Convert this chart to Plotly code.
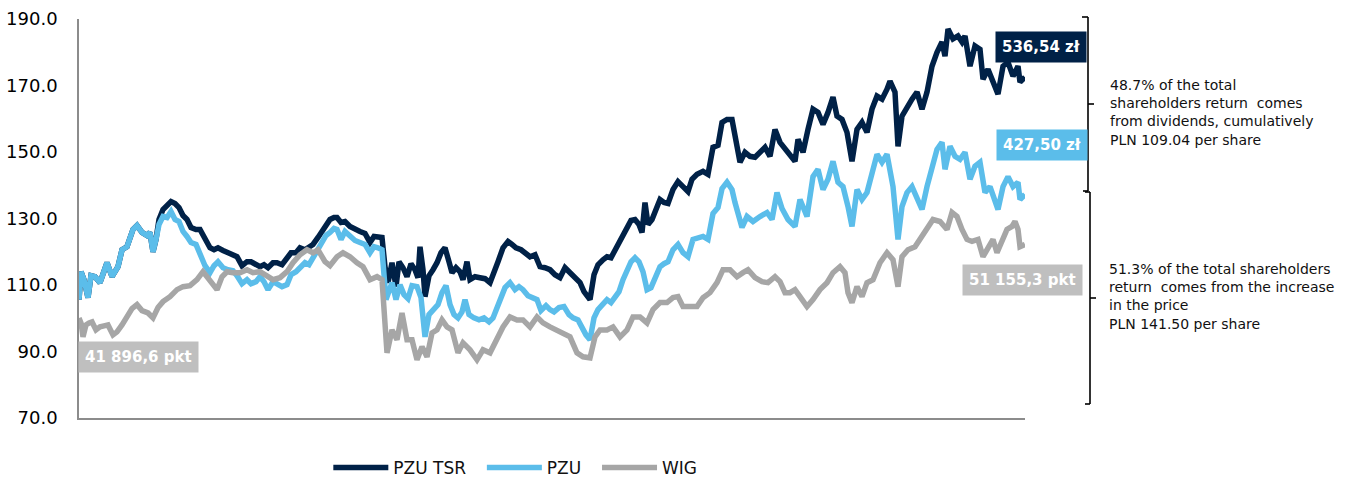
import plotly.graph_objects as go

# ---------------- data ----------------
# x = trading-session index since start, y = index value (start = 100)
SERIES_NAMES = ["PZU TSR", "PZU", "WIG"]
END_LABELS = ["536,54 zł", "427,50 zł", "51 155,3 pkt"]
START_LABEL = "41 896,6 pkt"

PZU_POINTS = [
    (0, 105.6), (4, 114.0), (10, 111.6), (18, 106.2), (24, 112.8), (32, 112.5), (42, 110.7), (50, 114.0),
    (56, 116.7), (66, 112.5), (78, 115.5), (86, 120.6), (96, 121.5), (108, 126.7), (116, 127.9), (126, 125.8),
    (136, 124.9), (142, 125.8), (148, 120.0), (154, 123.7), (160, 128.2), (168, 130.6), (176, 130.3), (184, 132.1),
    (192, 129.7), (200, 129.1), (208, 126.1), (216, 124.6), (224, 122.8), (234, 122.2), (242, 119.7), (252, 115.8),
    (262, 113.7), (270, 115.8), (278, 117.0), (288, 115.2), (298, 114.6), (308, 114.3), (316, 112.8), (326, 110.4),
    (336, 111.6), (344, 110.4), (354, 111.0), (362, 112.5), (370, 111.0), (378, 108.6), (388, 111.0), (396, 110.4),
    (406, 109.5), (416, 110.1), (424, 113.1), (434, 114.0), (442, 115.2), (452, 116.7), (460, 116.1), (468, 118.2),
    (478, 120.0), (486, 122.2), (494, 124.9), (502, 125.8), (510, 127.0), (516, 126.7), (524, 123.7), (532, 126.1),
    (542, 124.6), (552, 123.4), (562, 122.8), (572, 122.2), (582, 119.7), (590, 121.5), (598, 121.2), (606, 120.6),
    (614, 105.6), (620, 108.6), (626, 110.7), (634, 105.6), (642, 110.1), (650, 107.1), (658, 105.9), (666, 109.8),
    (676, 109.5), (684, 106.2), (692, 94.4), (700, 101.1), (708, 102.6), (718, 104.1), (726, 107.7), (734, 109.8),
    (742, 104.1), (750, 101.1), (758, 100.1), (766, 101.9), (772, 105.6), (780, 101.1), (790, 100.1), (800, 99.5),
    (810, 100.1), (820, 98.9), (828, 100.1), (836, 103.5), (844, 106.2), (852, 109.2), (862, 110.7), (872, 108.6),
    (880, 109.5), (888, 108.6), (898, 106.8), (908, 106.2), (916, 105.6), (924, 102.3), (934, 103.8), (942, 102.6),
    (950, 101.9), (960, 103.2), (970, 103.5), (980, 101.1), (988, 100.1), (998, 99.5), (1006, 97.1), (1014, 95.0),
    (1022, 93.5), (1030, 100.1), (1038, 102.6), (1048, 104.1), (1056, 105.6), (1064, 104.7), (1072, 106.2), (1080, 108.0),
    (1088, 111.6), (1096, 114.0), (1104, 117.0), (1112, 118.2), (1120, 117.0), (1128, 114.0), (1136, 108.6), (1144, 109.2),
    (1152, 112.2), (1162, 115.5), (1170, 116.4), (1178, 117.0), (1188, 120.6), (1198, 122.2), (1208, 119.7), (1218, 118.5),
    (1228, 123.7), (1238, 124.0), (1248, 124.6), (1258, 123.7), (1268, 131.5), (1278, 133.3), (1286, 139.0), (1296, 140.9),
    (1306, 138.7), (1312, 134.8), (1320, 130.3), (1326, 127.3), (1336, 130.6), (1348, 129.1), (1362, 130.6), (1376, 131.8),
    (1386, 129.7), (1396, 137.8), (1406, 133.0), (1418, 129.7), (1432, 127.6), (1442, 135.7), (1456, 130.6), (1468, 142.6),
    (1478, 144.8), (1488, 138.7), (1498, 141.8), (1508, 147.2), (1518, 140.9), (1528, 139.6), (1538, 133.6), (1546, 127.6),
    (1556, 138.7), (1566, 135.7), (1576, 137.8), (1586, 143.9), (1596, 149.3), (1606, 146.9), (1616, 149.3), (1628, 139.6),
    (1638, 123.7), (1646, 133.6), (1656, 137.8), (1666, 139.6), (1676, 135.7), (1686, 132.7), (1696, 139.6), (1706, 145.7),
    (1716, 150.8), (1726, 152.9), (1732, 144.8), (1742, 151.7), (1752, 148.7), (1762, 147.8), (1772, 149.9), (1782, 141.8),
    (1792, 145.7), (1802, 146.9), (1812, 137.8), (1822, 139.6), (1832, 135.7), (1838, 132.7), (1848, 139.6), (1858, 142.6),
    (1868, 139.6), (1878, 140.9), (1882, 135.7), (1892, 137.2),
]

TSR_POINTS = [
    (0, 105.6), (4, 114.0), (10, 111.6), (18, 106.2), (24, 112.8), (32, 112.5), (42, 110.7), (50, 114.0),
    (56, 116.7), (66, 112.5), (78, 115.5), (86, 120.6), (96, 121.5), (108, 126.7), (116, 127.9), (126, 125.8),
    (136, 124.9), (142, 125.8), (148, 120.0), (154, 123.7),
    (160, 129.7), (168, 132.7), (176, 134.2), (184, 135.1), (192, 134.5), (200, 133.3), (208, 130.9), (216, 129.7),
    (224, 127.3), (234, 126.7), (242, 126.7), (252, 123.7), (262, 121.2), (270, 120.6), (278, 121.2), (288, 120.4),
    (298, 119.7), (308, 119.1), (316, 118.5), (326, 115.8), (336, 117.0), (344, 117.0), (354, 116.4), (362, 115.5),
    (370, 116.1), (378, 115.2), (388, 116.7), (396, 116.7), (406, 116.1), (416, 118.5), (424, 119.7), (434, 119.7),
    (442, 121.2), (452, 120.6), (460, 121.5), (468, 122.2), (478, 124.3), (486, 126.1), (494, 128.5), (502, 129.7),
    (510, 130.3), (516, 130.3), (524, 128.8), (532, 129.1), (542, 127.6), (552, 126.7), (562, 126.1), (572, 125.5),
    (582, 122.8), (590, 124.6), (598, 124.6), (606, 124.3), (612, 115.5), (618, 110.7), (626, 116.7), (634, 109.5),
    (640, 117.0), (648, 115.2), (656, 112.5), (664, 116.4), (672, 114.6), (678, 112.2), (682, 121.5), (688, 114.6),
    (692, 106.5), (700, 112.8), (708, 114.6), (716, 116.7), (724, 119.7), (732, 121.2), (740, 117.0), (746, 113.7),
    (754, 115.2), (762, 114.0), (768, 111.6), (776, 117.0), (782, 111.6), (792, 112.5), (802, 112.2), (812, 111.9),
    (822, 110.7), (830, 113.4), (838, 117.0), (848, 121.2), (858, 123.1), (866, 122.2), (874, 121.2), (884, 120.6),
    (894, 119.4), (902, 118.5), (912, 119.1), (922, 115.5), (932, 115.2), (942, 114.6), (952, 113.1), (962, 112.2),
    (972, 115.2), (982, 113.7), (992, 112.2), (1002, 110.7), (1010, 108.0), (1018, 106.5), (1022, 105.6), (1030, 113.1),
    (1038, 116.1), (1048, 117.6), (1056, 118.5), (1064, 118.2), (1072, 120.6), (1080, 122.8), (1088, 125.2), (1096, 127.9),
    (1104, 129.4), (1112, 129.7), (1120, 128.2), (1126, 125.8), (1132, 134.8), (1138, 128.2), (1146, 129.7), (1154, 132.7),
    (1162, 135.7), (1170, 134.8), (1178, 134.5), (1188, 138.7), (1198, 141.1), (1208, 139.6), (1218, 138.1), (1226, 141.8),
    (1236, 143.3), (1248, 144.2), (1258, 143.3), (1268, 151.4), (1278, 152.0), (1286, 158.9), (1296, 159.8), (1306, 159.8),
    (1312, 154.7), (1322, 146.9), (1332, 149.9), (1342, 148.7), (1352, 148.4), (1362, 149.9), (1372, 151.4), (1382, 148.7),
    (1392, 156.8), (1402, 152.9), (1412, 150.8), (1422, 148.7), (1432, 147.2), (1438, 153.8), (1448, 149.9), (1458, 156.8),
    (1468, 162.9), (1478, 161.9), (1488, 158.3), (1498, 161.9), (1508, 166.5), (1516, 160.8), (1526, 159.8), (1536, 155.9),
    (1546, 147.2), (1556, 156.8), (1566, 158.9), (1576, 155.9), (1586, 162.9), (1596, 166.8), (1606, 165.9), (1616, 168.9),
    (1622, 171.3), (1632, 168.0), (1638, 151.7), (1646, 160.8), (1656, 163.8), (1666, 165.9), (1676, 168.0), (1686, 162.9),
    (1696, 168.0), (1706, 175.8), (1716, 180.0), (1726, 183.1), (1732, 178.8), (1738, 187.0), (1748, 184.0), (1758, 184.9),
    (1766, 183.1), (1772, 184.9), (1782, 175.8), (1792, 181.9), (1802, 180.9), (1808, 171.9), (1818, 174.9), (1828, 171.0),
    (1838, 167.4), (1848, 175.8), (1858, 177.0), (1868, 172.8), (1878, 175.8), (1882, 171.0), (1892, 172.5),
]

WIG_POINTS = [
    (0, 100.1), (4, 98.6), (8, 94.4), (14, 98.0), (20, 98.6), (26, 98.9), (34, 96.5), (42, 97.4),
    (50, 97.7), (58, 98.0), (68, 95.0), (76, 95.9), (86, 98.0), (96, 100.4), (106, 102.9), (116, 104.1),
    (126, 102.3), (138, 101.6), (148, 100.1), (158, 103.2), (168, 105.0), (182, 106.5), (196, 108.6), (208, 109.5),
    (222, 109.8), (236, 111.6), (248, 114.0), (256, 112.5), (266, 110.7), (276, 108.6), (286, 112.5), (296, 114.0),
    (308, 113.7), (322, 113.7), (336, 114.6), (348, 113.7), (362, 114.0), (376, 112.5), (388, 111.6), (402, 112.2),
    (416, 114.0), (428, 116.7), (442, 119.1), (456, 120.6), (468, 119.7), (478, 120.6), (492, 117.0), (502, 115.8),
    (516, 118.5), (528, 119.7), (542, 118.5), (556, 116.7), (568, 115.5), (582, 111.6), (596, 112.5), (606, 111.6),
    (612, 99.5), (616, 89.6), (626, 96.5), (636, 93.5), (646, 101.6), (656, 93.5), (666, 93.5), (676, 87.5),
    (686, 91.4), (696, 88.4), (706, 95.6), (716, 96.5), (726, 99.5), (736, 97.4), (746, 96.5), (758, 89.6),
    (768, 92.6), (782, 90.5), (796, 87.5), (808, 90.5), (822, 89.6), (836, 93.5), (848, 97.4), (862, 100.4),
    (876, 99.5), (888, 99.5), (902, 97.4), (916, 100.4), (928, 98.6), (942, 97.4), (956, 96.5), (968, 95.6),
    (982, 94.4), (996, 89.6), (1008, 88.4), (1022, 88.1), (1032, 94.4), (1042, 96.5), (1056, 96.5), (1068, 97.4),
    (1082, 94.4), (1096, 96.5), (1108, 100.4), (1122, 100.4), (1136, 98.6), (1148, 102.6), (1162, 104.7), (1176, 104.7),
    (1188, 106.2), (1198, 106.5), (1208, 103.5), (1222, 103.5), (1236, 103.5), (1248, 106.2), (1262, 107.7), (1276, 110.7),
    (1288, 114.6), (1302, 114.6), (1316, 112.5), (1328, 113.7), (1338, 114.6), (1352, 112.2), (1366, 111.0), (1378, 110.7),
    (1392, 112.5), (1402, 111.0), (1412, 107.7), (1422, 107.7), (1432, 108.6), (1442, 106.5), (1456, 103.5), (1468, 105.6),
    (1482, 108.6), (1496, 110.7), (1508, 113.7), (1522, 115.5), (1532, 113.7), (1538, 107.7), (1546, 104.7), (1556, 109.5),
    (1566, 106.5), (1576, 110.7), (1588, 111.6), (1602, 116.7), (1616, 119.7), (1628, 117.6), (1638, 109.5), (1646, 118.5),
    (1658, 120.6), (1672, 121.5), (1682, 123.7), (1696, 126.7), (1708, 129.7), (1722, 129.1), (1736, 126.7), (1746, 131.8),
    (1756, 130.6), (1766, 126.7), (1776, 123.7), (1786, 123.1), (1798, 123.7), (1808, 118.5), (1818, 121.5), (1828, 123.7),
    (1836, 119.7), (1846, 122.8), (1856, 126.7), (1866, 127.6), (1872, 129.1), (1878, 126.7), (1882, 121.5), (1892, 122.2),
]

Y_TICKS = [70, 90, 110, 130, 150, 170, 190]

NOTE_DIVIDENDS = ("48.7% of the total<br>shareholders return\u00a0 comes<br>"
                  "from dividends, cumulatively<br>PLN 109.04 per share")
NOTE_PRICE = ("51.3% of the total shareholders<br>return\u00a0 comes from the increase<br>"
              "in the price<br>PLN 141.50 per share")

# ---------------- styles ----------------
COLORS = ["#002147", "#5BBDEA", "#A6A6A6"]
LABEL_BG = ["#002147", "#5BBDEA", "#BFBFBF"]
FONT = "DejaVu Sans"
LEGEND_PAD = "\u00a0\u00a0"   # extra spacing after each legend entry

W, H = 1351, 481
PL, PR, PT, PB = 79, 1025, 19, 418


def px(x):
    return (x - PL) / (PR - PL)


def py(y):
    return (PB - y) / (PB - PT)


fig = go.Figure()
for name, pts, col in zip(SERIES_NAMES, [TSR_POINTS, PZU_POINTS, WIG_POINTS], COLORS):
    xs = [p[0] for p in pts]
    ys = [p[1] for p in pts]
    fig.add_trace(go.Scatter(x=xs, y=ys, mode="lines", name=name + LEGEND_PAD,
                             line=dict(color=col, width=5.5, shape="linear"),
                             hoverinfo="skip"))

x_end = WIG_POINTS[-1][0]

annotations = []
# end value labels
label_centers = [(1040.5, 47), (1041.5, 144.5), (1022.5, 279.5)]
for txt, bg, (cx, cy) in zip(END_LABELS, LABEL_BG, label_centers):
    annotations.append(dict(xref="paper", yref="paper", x=px(cx), y=py(cy),
                            xanchor="center", yanchor="middle", showarrow=False,
                            text="<b>%s</b>" % txt, bgcolor=bg, borderpad=6,
                            font=dict(family=FONT, size=15, color="white")))
annotations.append(dict(xref="paper", yref="paper", x=px(138.5), y=py(357),
                        xanchor="center", yanchor="middle", showarrow=False,
                        text="<b>%s</b>" % START_LABEL, bgcolor=LABEL_BG[2], borderpad=6,
                        font=dict(family=FONT, size=15, color="white")))
# side notes
annotations.append(dict(xref="paper", yref="paper", x=px(1108), y=py(112),
                        xanchor="left", yanchor="middle", align="left", showarrow=False,
                        text=NOTE_DIVIDENDS, font=dict(family=FONT, size=14, color="#111111")))
annotations.append(dict(xref="paper", yref="paper", x=px(1107), y=py(296.5),
                        xanchor="left", yanchor="middle", align="left", showarrow=False,
                        text=NOTE_PRICE, font=dict(family=FONT, size=14, color="#111111")))

shapes = []
bracket_style = dict(color="#000000", width=1.6)
for (x0, y0, x1, y1) in [(1082, 17, 1088, 17), (1088, 17, 1088, 191), (1088, 104, 1094, 104),
                         (1083, 191, 1088, 191),
                         (1085, 192, 1090, 192), (1090, 192, 1090, 404), (1090, 298, 1096, 298),
                         (1085, 404, 1090, 404)]:
    shapes.append(dict(type="line", xref="paper", yref="paper",
                       x0=px(x0), y0=py(y0), x1=px(x1), y1=py(y1), line=bracket_style))

fig.update_layout(
    width=W, height=H,
    margin=dict(l=PL, r=W - PR, t=PT, b=H - PB, pad=0, autoexpand=False),
    plot_bgcolor="white", paper_bgcolor="white",
    font=dict(family=FONT, color="#000000"),
    showlegend=True,
    legend=dict(orientation="h", x=px(334) - 0.006, xanchor="left", y=py(468), yanchor="middle",
                font=dict(family=FONT, size=17, color="#111111"), itemwidth=55,
                bgcolor="rgba(0,0,0,0)"),
    annotations=annotations,
    shapes=shapes,
    hovermode=False,
)
fig.update_xaxes(range=[0, x_end], showgrid=False, zeroline=False, showticklabels=False,
                 ticks="", showline=True, linecolor="#8C8C8C", linewidth=2, automargin=False)
fig.update_yaxes(range=[70, 190], tickvals=Y_TICKS, tickformat=".1f", showgrid=False,
                 zeroline=False, ticks="", showline=True, linecolor="#8C8C8C", linewidth=1.5,
                 tickfont=dict(family=FONT, size=18, color="#000000"), ticklabelstandoff=16,
                 automargin=False)

fig.write_html("out.html", config={"displayModeBar": False},
               post_script="document.body.style.margin='0px';document.body.style.overflow='hidden';")
